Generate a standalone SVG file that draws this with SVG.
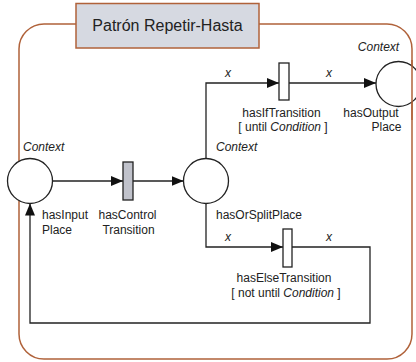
<svg xmlns="http://www.w3.org/2000/svg" width="416" height="362" viewBox="0 0 416 362">
<style>
text{font-family:"Liberation Sans",Arial,sans-serif;font-size:12px;fill:#222}
.it{font-style:italic}
.place{fill:#fff;stroke:#222;stroke-width:1.3}
.tr{stroke:#222;stroke-width:1.3}
.edge{fill:none;stroke:#222;stroke-width:1.3}
</style>
<defs>
<marker id="arr" viewBox="0 0 12 10" refX="12" refY="5" markerWidth="12" markerHeight="10" markerUnits="userSpaceOnUse" orient="auto">
<path d="M0,0 L12,5 L0,10 z" fill="#111"/>
</marker>
</defs>
<rect x="19" y="24" width="393" height="335" rx="25" ry="25" fill="#fff" stroke="#b0623a" stroke-width="1.5"/>
<g id="title">
<rect x="76" y="3.5" width="183" height="44.5" fill="#d6d9e1" stroke="#b0623a" stroke-width="1.5"/>
<text x="167.5" y="30.5" text-anchor="middle" style="font-size:16px">Patrón Repetir-Hasta</text>
</g>
<g id="connectors">
<path class="edge" d="M53,181 H123" marker-end="url(#arr)"/>
<path class="edge" d="M133,181 H183.5" marker-end="url(#arr)"/>
<path class="edge" d="M206,158.5 V83 H279" marker-end="url(#arr)"/>
<path class="edge" d="M289,83 H376" marker-end="url(#arr)"/>
<path class="edge" d="M206,203.5 V247 H283" marker-end="url(#arr)"/>
<path class="edge" d="M292,247 H370 V323 H30 V203.5" marker-end="url(#arr)"/>
<text class="it" x="228" y="77" text-anchor="middle">x</text>
<text class="it" x="329" y="77" text-anchor="middle">x</text>
<text class="it" x="228" y="241" text-anchor="middle">x</text>
<text class="it" x="329" y="241" text-anchor="middle">x</text>
</g>
<g id="inputPlace">
<circle class="place" cx="30" cy="181" r="22.5"/>
<text class="it" x="23" y="151">Context</text>
<text x="42" y="219">hasInput</text>
<text x="42" y="234">Place</text>
</g>
<g id="controlTransition">
<rect class="tr" x="123" y="162" width="10" height="38" fill="#c0c2cb"/>
<text x="127.5" y="219" text-anchor="middle">hasControl</text>
<text x="128.5" y="234" text-anchor="middle">Transition</text>
</g>
<g id="orSplitPlace">
<circle class="place" cx="206" cy="181" r="22.5"/>
<text class="it" x="216" y="151">Context</text>
<text x="216" y="219">hasOrSplitPlace</text>
</g>
<g id="ifTransition">
<rect class="tr" x="279" y="63" width="10" height="37" fill="#fff"/>
<text x="281.5" y="117" text-anchor="middle">hasIfTransition</text>
<text x="283" y="131" text-anchor="middle">[ until <tspan class="it">Condition</tspan>  ]</text>
</g>
<g id="outputPlace">
<circle class="place" cx="398.5" cy="84" r="22.5"/>
<text class="it" x="378.5" y="51" text-anchor="middle">Context</text>
<text x="371" y="117" text-anchor="middle">hasOutput</text>
<text x="386.5" y="131" text-anchor="middle">Place</text>
</g>
<g id="elseTransition">
<rect class="tr" x="283" y="229" width="9" height="38" fill="#fff"/>
<text x="284" y="282" text-anchor="middle">hasElseTransition</text>
<text x="286" y="297" text-anchor="middle">[ not until <tspan class="it">Condition</tspan>  ]</text>
</g>
<path d="M412,60 V120" fill="none" stroke="#b0623a" stroke-width="1.5"/>
</svg>
